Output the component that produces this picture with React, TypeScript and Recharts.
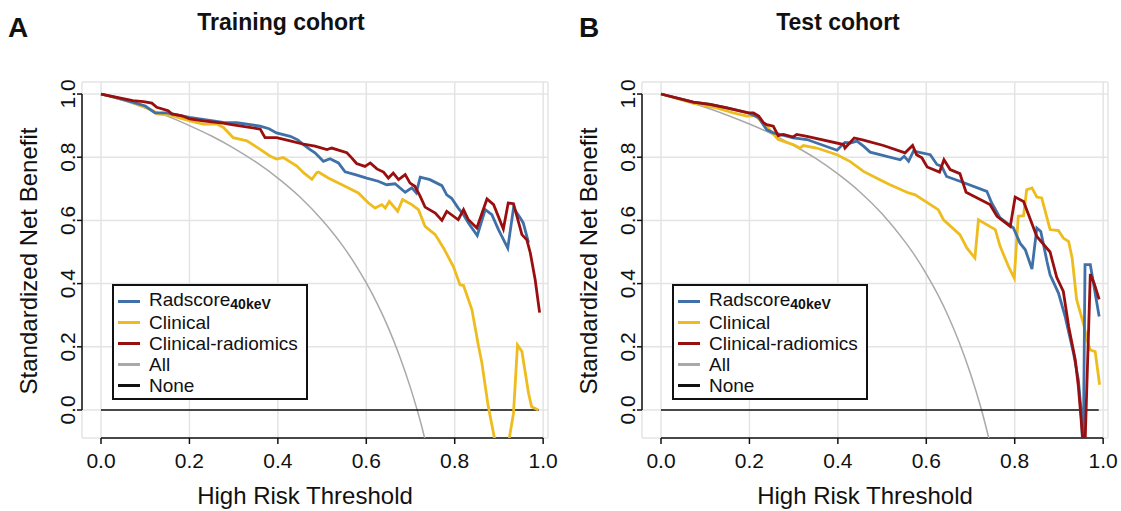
import React from 'react';
import { LineChart, Line, XAxis, YAxis, CartesianGrid, ReferenceLine } from 'recharts';

const FONT = '"Liberation Sans", Arial, Helvetica, sans-serif';

const COLORS = {
  rad: '#3f71a8', // blue
  clin: '#eebc1d', // yellow
  comb: '#990f0f', // dark red
  all: '#a9a9a9', // gray
  none: '#111111',
};

const X_TICKS = [0, 0.2, 0.4, 0.6, 0.8, 1.0];
const Y_TICKS = [0, 0.2, 0.4, 0.6, 0.8, 1.0];
const X_DOMAIN = [-0.043, 1.011];
const Y_DOMAIN = [-0.0886, 1.038];

// [threshold, standardized net benefit]
const trainRadscore = [
  [0, 1], [0.03, 0.99], [0.07, 0.975], [0.1, 0.962], [0.122, 0.94], [0.15, 0.94], [0.2, 0.926],
  [0.25, 0.916], [0.276, 0.91], [0.307, 0.909], [0.33, 0.905], [0.36, 0.898], [0.38, 0.89],
  [0.397, 0.877], [0.428, 0.866], [0.445, 0.855], [0.458, 0.84], [0.473, 0.824], [0.484, 0.814],
  [0.503, 0.787], [0.518, 0.795], [0.537, 0.782], [0.552, 0.754], [0.575, 0.745], [0.601, 0.734],
  [0.627, 0.724], [0.646, 0.713], [0.665, 0.716], [0.688, 0.689], [0.703, 0.703], [0.713, 0.687],
  [0.722, 0.737], [0.744, 0.729], [0.771, 0.71], [0.782, 0.681], [0.793, 0.67], [0.808, 0.639],
  [0.82, 0.618], [0.831, 0.592], [0.851, 0.552], [0.869, 0.634], [0.884, 0.618], [0.899, 0.571],
  [0.92, 0.512], [0.933, 0.639], [0.948, 0.608], [0.955, 0.592], [0.967, 0.53],
];
const trainClinical = [
  [0, 1], [0.07, 0.975], [0.118, 0.947], [0.126, 0.937], [0.156, 0.933], [0.201, 0.915],
  [0.231, 0.905], [0.262, 0.905], [0.277, 0.894], [0.299, 0.862], [0.33, 0.852], [0.36, 0.825],
  [0.382, 0.804], [0.397, 0.794], [0.412, 0.799], [0.443, 0.772], [0.458, 0.751], [0.477, 0.73],
  [0.488, 0.751], [0.492, 0.753], [0.514, 0.734], [0.545, 0.713], [0.582, 0.687], [0.605, 0.655],
  [0.62, 0.639], [0.635, 0.65], [0.643, 0.639], [0.652, 0.66], [0.671, 0.629], [0.682, 0.666],
  [0.703, 0.65], [0.718, 0.634], [0.733, 0.581], [0.756, 0.555], [0.775, 0.512], [0.797, 0.454],
  [0.812, 0.396], [0.82, 0.394], [0.839, 0.317], [0.854, 0.201], [0.861, 0.153], [0.876, 0.01],
  [0.9, -0.16], [0.915, -0.16], [0.933, -0.01], [0.942, 0.206], [0.952, 0.185], [0.967, 0.053],
  [0.974, 0.01], [0.989, 0],
];
const trainCombined = [
  [0, 1], [0.072, 0.979], [0.096, 0.976], [0.115, 0.971], [0.126, 0.958], [0.152, 0.947],
  [0.16, 0.937], [0.183, 0.931], [0.201, 0.921], [0.231, 0.915], [0.276, 0.908], [0.299, 0.902],
  [0.36, 0.889], [0.371, 0.862], [0.397, 0.862], [0.428, 0.852], [0.458, 0.841], [0.484, 0.835],
  [0.511, 0.824], [0.522, 0.829], [0.556, 0.814], [0.567, 0.798], [0.578, 0.78], [0.597, 0.771],
  [0.609, 0.782], [0.624, 0.763], [0.639, 0.753], [0.65, 0.734], [0.661, 0.75], [0.673, 0.729],
  [0.688, 0.745], [0.699, 0.718], [0.71, 0.708], [0.722, 0.676], [0.733, 0.642], [0.756, 0.623],
  [0.771, 0.6], [0.782, 0.629], [0.808, 0.602], [0.82, 0.634], [0.831, 0.602], [0.85, 0.576],
  [0.873, 0.668], [0.888, 0.65], [0.91, 0.573], [0.921, 0.655], [0.933, 0.653], [0.952, 0.555],
  [0.963, 0.539], [0.971, 0.497], [0.982, 0.412], [0.992, 0.308],
];
const trainAll = [
  [0, 1], [0.05, 0.979], [0.1, 0.956], [0.15, 0.93], [0.2, 0.9], [0.25, 0.867], [0.3, 0.829],
  [0.35, 0.785], [0.4, 0.734], [0.45, 0.674], [0.5, 0.601], [0.55, 0.513], [0.575, 0.461],
  [0.6, 0.402], [0.625, 0.336], [0.65, 0.26], [0.675, 0.172], [0.7, 0.07], [0.725, -0.05], [0.75, -0.196],
];

const testRadscore = [
  [0, 1], [0.073, 0.974], [0.111, 0.967], [0.149, 0.956], [0.198, 0.94], [0.221, 0.925],
  [0.239, 0.887], [0.254, 0.877], [0.269, 0.872], [0.299, 0.861], [0.33, 0.856], [0.398, 0.822],
  [0.416, 0.847], [0.428, 0.845], [0.443, 0.851], [0.458, 0.835], [0.473, 0.816], [0.541, 0.792],
  [0.55, 0.803], [0.56, 0.787], [0.571, 0.819], [0.609, 0.808], [0.624, 0.777], [0.635, 0.771],
  [0.646, 0.739], [0.676, 0.724], [0.737, 0.692], [0.748, 0.655], [0.767, 0.608], [0.797, 0.576],
  [0.812, 0.528], [0.824, 0.507], [0.839, 0.446], [0.85, 0.576], [0.859, 0.565], [0.873, 0.47],
  [0.88, 0.428], [0.899, 0.37], [0.914, 0.296], [0.933, 0.18], [0.944, 0.095], [0.95, 0],
  [0.955, -0.15], [0.959, 0.46], [0.971, 0.46], [0.991, 0.296],
];
const testClinical = [
  [0, 1], [0.072, 0.971], [0.126, 0.956], [0.164, 0.94], [0.194, 0.93], [0.213, 0.932],
  [0.239, 0.898], [0.265, 0.856], [0.299, 0.84], [0.314, 0.829], [0.322, 0.837], [0.352, 0.829],
  [0.398, 0.808], [0.428, 0.786], [0.458, 0.755], [0.495, 0.729], [0.518, 0.713], [0.56, 0.687],
  [0.575, 0.681], [0.627, 0.634], [0.639, 0.602], [0.676, 0.555], [0.692, 0.512], [0.71, 0.481],
  [0.718, 0.602], [0.756, 0.571], [0.767, 0.518], [0.786, 0.454], [0.799, 0.417], [0.808, 0.613],
  [0.82, 0.615], [0.827, 0.697], [0.839, 0.703], [0.85, 0.674], [0.861, 0.671], [0.88, 0.571],
  [0.899, 0.568], [0.91, 0.544], [0.922, 0.533], [0.93, 0.48], [0.94, 0.35], [0.956, 0.27],
  [0.964, 0.22], [0.971, 0.19], [0.982, 0.185], [0.992, 0.08],
];
const testCombined = [
  [0, 1], [0.073, 0.974], [0.111, 0.967], [0.149, 0.956], [0.198, 0.94], [0.209, 0.94],
  [0.221, 0.93], [0.232, 0.909], [0.239, 0.903], [0.254, 0.898], [0.265, 0.868], [0.277, 0.872],
  [0.299, 0.864], [0.307, 0.872], [0.33, 0.866], [0.413, 0.84], [0.416, 0.829], [0.437, 0.861],
  [0.458, 0.854], [0.503, 0.837], [0.552, 0.814], [0.569, 0.837], [0.578, 0.808], [0.59, 0.798],
  [0.602, 0.769], [0.63, 0.753], [0.64, 0.792], [0.654, 0.761], [0.676, 0.748], [0.69, 0.689],
  [0.744, 0.65], [0.76, 0.613], [0.79, 0.581], [0.801, 0.674], [0.82, 0.66], [0.85, 0.549],
  [0.88, 0.5], [0.895, 0.42], [0.91, 0.375], [0.922, 0.264], [0.937, 0.158], [0.944, 0.074],
  [0.958, -0.16], [0.971, 0.43], [0.98, 0.4], [0.991, 0.35],
];
const testAll = [
  [0, 1], [0.05, 0.98], [0.1, 0.958], [0.15, 0.933], [0.2, 0.905], [0.25, 0.874], [0.3, 0.837],
  [0.35, 0.796], [0.4, 0.747], [0.45, 0.69], [0.5, 0.621], [0.55, 0.536], [0.575, 0.487],
  [0.6, 0.431], [0.625, 0.368], [0.65, 0.296], [0.675, 0.212], [0.7, 0.115], [0.725, 0], [0.75, -0.138],
];

const noneLine = [[0, 0], [0.99, 0]];

const toPts = (arr: number[][]) => arr.map(([x, y]) => ({ x, y }));

function YTick({ y, payload }: any) {
  return (
    <text x={75} y={y} transform={`rotate(-90 75 ${y})`} textAnchor="middle" fontSize={21} fontFamily={FONT} fill="#111">
      {Number(payload.value).toFixed(1)}
    </text>
  );
}

function XTick({ x, payload }: any) {
  return (
    <text x={x} y={468} textAnchor="middle" fontSize={21} fontFamily={FONT} fill="#111">
      {Number(payload.value).toFixed(1)}
    </text>
  );
}

function LegendBox() {
  const items = [
    { key: 'rad', label: <span>Radscore<sub style={{ fontSize: 14, fontWeight: 'bold', verticalAlign: -3 }}>40keV</sub></span> },
    { key: 'clin', label: 'Clinical' },
    { key: 'comb', label: 'Clinical-radiomics' },
    { key: 'all', label: 'All' },
    { key: 'none', label: 'None' },
  ];
  return (
    <div
      style={{
        position: 'absolute', left: 112, top: 284, width: 196, height: 116, boxSizing: 'border-box',
        border: '2px solid #111', background: '#fff', paddingTop: 5, fontFamily: FONT, fontSize: 19, color: '#111',
      }}
    >
      {items.map((it) => (
        <div key={it.key} style={{ display: 'flex', alignItems: 'center', height: 21, lineHeight: '21px' }}>
          <div style={{ width: 22, height: 3, marginLeft: 4, background: (COLORS as any)[it.key] }} />
          <div style={{ marginLeft: 9, whiteSpace: 'nowrap' }}>{it.label}</div>
        </div>
      ))}
    </div>
  );
}

function Panel({ letter, letterX, title, titleX, rad, clin, comb, all }: any) {
  return (
    <div style={{ position: 'relative', width: 560, height: 511 }}>
      <LineChart width={560} height={511} margin={{ top: 82, right: 12, bottom: 0, left: 0 }}>
        <CartesianGrid stroke="#e4e4e4" strokeWidth={1.5} />
        <XAxis
          dataKey="x" type="number" domain={X_DOMAIN} allowDataOverflow ticks={X_TICKS} height={73}
          axisLine={false} tickLine={{ stroke: '#111', strokeWidth: 1.5 }} tickSize={6} tick={<XTick />} interval={0}
        />
        <YAxis
          type="number" domain={Y_DOMAIN} allowDataOverflow ticks={Y_TICKS} width={82}
          axisLine={false} tickLine={{ stroke: '#111', strokeWidth: 1.5 }} tickSize={5} tick={<YTick />} interval={0}
        />
        <ReferenceLine segment={[{ x: X_DOMAIN[0], y: 0 }, { x: X_DOMAIN[0], y: 1 }]} stroke="#111" strokeWidth={1.5} ifOverflow="visible" />
        <ReferenceLine segment={[{ x: 0, y: Y_DOMAIN[0] }, { x: 1, y: Y_DOMAIN[0] }]} stroke="#111" strokeWidth={1.5} ifOverflow="visible" />
        <Line data={toPts(all)} dataKey="y" type="monotone" stroke={COLORS.all} strokeWidth={1.5} dot={false} isAnimationActive={false} />
        <Line data={toPts(noneLine)} dataKey="y" type="linear" stroke={COLORS.none} strokeWidth={1.5} dot={false} isAnimationActive={false} />
        <Line data={toPts(clin)} dataKey="y" type="linear" stroke={COLORS.clin} strokeWidth={2.8} dot={false} isAnimationActive={false} />
        <Line data={toPts(rad)} dataKey="y" type="linear" stroke={COLORS.rad} strokeWidth={2.8} dot={false} isAnimationActive={false} />
        <Line data={toPts(comb)} dataKey="y" type="linear" stroke={COLORS.comb} strokeWidth={2.8} dot={false} isAnimationActive={false} />
      </LineChart>
      <svg width={560} height={511} style={{ position: 'absolute', left: 0, top: 0, pointerEvents: 'none' }}>
        <text x={letterX} y={37} fontSize={28} fontWeight="bold" fontFamily={FONT} fill="#111">{letter}</text>
        <text x={titleX} y={30} fontSize={23} fontWeight="bold" fontFamily={FONT} fill="#111" textAnchor="middle">{title}</text>
        <text x={37} y={261} transform="rotate(-90 37 261)" fontSize={24} fontFamily={FONT} fill="#111" textAnchor="middle">Standardized Net Benefit</text>
        <text x={305} y={504} fontSize={24} fontFamily={FONT} fill="#111" textAnchor="middle">High Risk Threshold</text>
      </svg>
      <LegendBox />
    </div>
  );
}

export default function App() {
  return (
    <div style={{ position: 'absolute', left: 0, top: 0, width: 1121, height: 511, background: '#fff', display: 'flex' }}>
      <Panel letter="A" letterX={8} title="Training cohort" titleX={281}
        rad={trainRadscore} clin={trainClinical} comb={trainCombined} all={trainAll} />
      <Panel letter="B" letterX={19} title="Test cohort" titleX={278}
        rad={testRadscore} clin={testClinical} comb={testCombined} all={testAll} />
    </div>
  );
}
